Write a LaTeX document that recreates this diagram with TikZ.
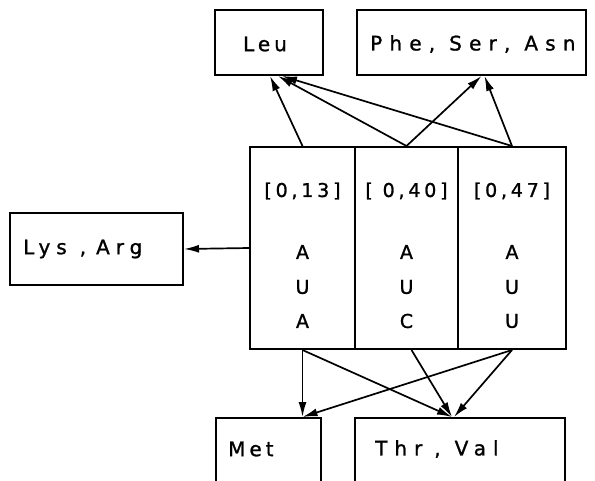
\documentclass[tikz,border=0pt]{standalone}
\usepackage{fontspec}
\setmainfont{DejaVu Sans}[LetterSpace=20,FakeBold=1.2]
\usetikzlibrary{arrows.meta}
\begin{document}
\begin{tikzpicture}[x=1pt,y=-1pt,
  box/.style={draw, line width=2pt, inner sep=0pt},
  lbl/.style={font=\fontsize{20}{24}\selectfont, inner sep=0pt},
  wide/.style={font=\fontsize{20}{24}\selectfont\addfontfeatures{LetterSpace=#1}},
  col/.style={font=\fontsize{19}{22}\selectfont, inner sep=0pt},
  arr/.style={line width=1.7pt, -{Latex[length=15pt,width=8pt]}}]
\clip (0,0) rectangle (595,480);
\fill[white] (0,0) rectangle (595,480);
% top boxes
\node[box, minimum width=108pt, minimum height=65pt] (leu) at (269,42.5) {};
\node[lbl] (leut) at (265,44) {Leu};
\node[box, minimum width=229pt, minimum height=65pt] (phe) at (471.5,42.5) {};
\node[lbl, wide=36, anchor=west] (phet) at (370,44) {Phe,\hspace{14pt}Ser,\hspace{14pt}Asn};
% left box
\node[box, minimum width=173pt, minimum height=72pt] (lys) at (96.5,249) {};
\node[lbl, wide=30, anchor=west] (lyst) at (23,249) {Lys\hspace{13pt},\hspace{10pt}Arg};
% bottom boxes
\node[box, minimum width=105pt, minimum height=103pt] (met) at (268.5,469.5) {};
\node[lbl, anchor=west] (mett) at (228,449) {Met};
\node[box, minimum width=210pt, minimum height=103pt] (thr) at (460,469.5) {};
\node[lbl, wide=35, anchor=west] (thrt) at (375,449) {Thr\hspace{12pt},\hspace{14pt}Val};
% columns
\node[box, minimum width=105pt, minimum height=202pt] (c1) at (302.5,248) {};
\node[box, minimum width=103pt, minimum height=202pt] (c2) at (406.5,248) {};
\node[box, minimum width=108pt, minimum height=202pt] (c3) at (512,248) {};
\foreach \c/\n/\a/\b/\d in {c1/{[0,13]}/A/U/A, c2/{[ 0,40]}/A/U/C, c3/{[0,47]}/A/U/U}{
  \node[col] (\c n) at (\c.center |- 0,191) {\n};
  \node[col] (\c a) at (\c.center |- 0,252) {\a};
  \node[col] (\c b) at (\c.center |- 0,287) {\b};
  \node[col] (\c d) at (\c.center |- 0,321) {\d};
}
% arrows up
\draw[arr] (c1.north) -- ([xshift=1pt]leu.south);
\draw[arr] (c2.north) -- ([xshift=9pt]leu.south);
\draw[arr] (c3.north) -- ([xshift=13pt]leu.south);
\draw[arr] (c2.north) -- ([xshift=10pt]phe.south);
\draw[arr] (c3.north) -- ([xshift=13pt]phe.south);
% arrow left
\draw[arr] (c1.west) -- (lys.east);
% arrows down
\draw[arr] (c1.south) -- (c1.south |- met.north);
\draw[arr] (c3.south) -- ([xshift=34pt]met.north);
\draw[arr] (c1.south) -- ([xshift=-8pt]thr.north);
\draw[arr] ([xshift=5pt]c2.south) -- ([xshift=-8pt]thr.north);
\draw[arr] (c3.south) -- ([xshift=-6pt]thr.north);
\end{tikzpicture}
\end{document}
